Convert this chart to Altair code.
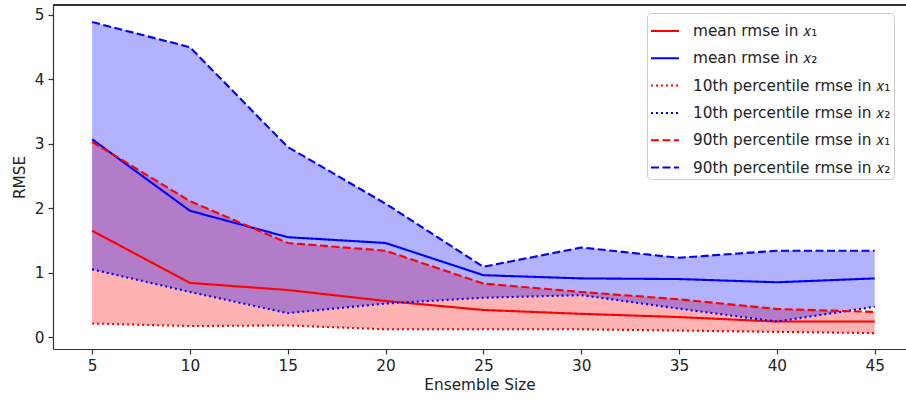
import altair as alt
import pandas as pd

sizes = [5, 10, 15, 20, 25, 30, 35, 40, 45]
mean_x1 = [1.65, 0.84, 0.73, 0.56, 0.42, 0.36, 0.31, 0.24, 0.24]
mean_x2 = [3.07, 1.96, 1.55, 1.46, 0.96, 0.91, 0.90, 0.85, 0.91]
p10_x1 = [0.21, 0.17, 0.18, 0.12, 0.12, 0.12, 0.10, 0.08, 0.06]
p10_x2 = [1.05, 0.70, 0.37, 0.52, 0.61, 0.65, 0.44, 0.24, 0.47]
p90_x1 = [3.03, 2.11, 1.46, 1.34, 0.83, 0.70, 0.585, 0.435, 0.39]
p90_x2 = [4.89, 4.50, 2.95, 2.07, 1.09, 1.39, 1.23, 1.34, 1.34]

labels = [
    "mean rmse in 𝑥₁",
    "mean rmse in 𝑥₂",
    "10th percentile rmse in 𝑥₁",
    "10th percentile rmse in 𝑥₂",
    "90th percentile rmse in 𝑥₁",
    "90th percentile rmse in 𝑥₂",
]
series_values = [mean_x1, mean_x2, p10_x1, p10_x2, p90_x1, p90_x2]
line_colors = ["#ff0000", "#0000ff", "#ff0000", "#0000ff", "#ff0000", "#0000ff"]
line_dashes = [[1, 0], [1, 0], [2, 3], [2, 3], [8, 3.5], [8, 3.5]]

wide = pd.DataFrame({
    "size": sizes,
    "p10_x1": p10_x1, "p90_x1": p90_x1,
    "p10_x2": p10_x2, "p90_x2": p90_x2,
})

rows = []
for lab, vals in zip(labels, series_values):
    for s, v in zip(sizes, vals):
        rows.append({"size": s, "value": v, "series": lab})
long = pd.DataFrame(rows)

FS = 15.3
W, H = 853, 344
xscale = alt.Scale(domain=[3, 46.6], nice=False, zero=False)
yscale = alt.Scale(domain=[-0.186, 5.155], nice=False, zero=False)

xaxis = alt.Axis(values=sizes, title="Ensemble Size", grid=False, tickSize=5,
                 labelPadding=4, titlePadding=4)
yaxis = alt.Axis(values=[0, 1, 2, 3, 4, 5], format="d", title="RMSE", grid=False,
                 tickSize=5, labelPadding=4, titlePadding=7)

base = alt.Chart(wide)

area_red = base.mark_area(color="#ff0000", opacity=0.3).encode(
    x=alt.X("size:Q", scale=xscale, axis=xaxis),
    y=alt.Y("p10_x1:Q", scale=yscale, axis=yaxis),
    y2="p90_x1:Q",
)
area_blue = base.mark_area(color="#0000ff", opacity=0.3).encode(
    x=alt.X("size:Q", scale=xscale),
    y=alt.Y("p10_x2:Q", scale=yscale),
    y2="p90_x2:Q",
)

legend = alt.Legend(
    title=None, orient="none", legendX=594, legendY=8,
    symbolType="stroke", symbolSize=784, symbolStrokeWidth=2,
    labelFontSize=FS, labelOffset=13, rowPadding=3.3,
    fillColor="rgba(255,255,255,0.8)", strokeColor="#cccccc",
    cornerRadius=4, padding=3, labelLimit=400,
)

lines = alt.Chart(long).mark_line(strokeWidth=2.1, strokeCap="butt").encode(
    x=alt.X("size:Q", scale=xscale),
    y=alt.Y("value:Q", scale=yscale),
    color=alt.Color("series:N", scale=alt.Scale(domain=labels, range=line_colors),
                    sort=labels, legend=legend),
    strokeDash=alt.StrokeDash("series:N", scale=alt.Scale(domain=labels, range=line_dashes),
                              sort=labels, legend=legend),
)

top_spine = alt.Chart(wide).mark_rule(color="#333333", strokeWidth=1.2).encode(
    x=alt.value(0), x2=alt.value(W), y=alt.value(0)
)

chart = alt.layer(area_red, area_blue, lines, top_spine).properties(
    width=W, height=H,
    autosize=alt.AutoSizeParams(type="none"),
    padding={"left": 53, "top": 5, "right": 0, "bottom": 52},
).configure_view(stroke=None).configure(
    font="DejaVu Sans",
).configure_axis(
    labelFont="DejaVu Sans", titleFont="DejaVu Sans",
    labelFontSize=FS, titleFontSize=FS, titleFontWeight="normal",
    labelColor="#222222", titleColor="#222222",
    domainColor="#333333", tickColor="#333333", domainWidth=1.2, tickWidth=1.2,
).configure_legend(labelFont="DejaVu Sans", labelColor="#222222")

chart.save("out.html", embed_options={"renderer": "svg", "actions": False})
